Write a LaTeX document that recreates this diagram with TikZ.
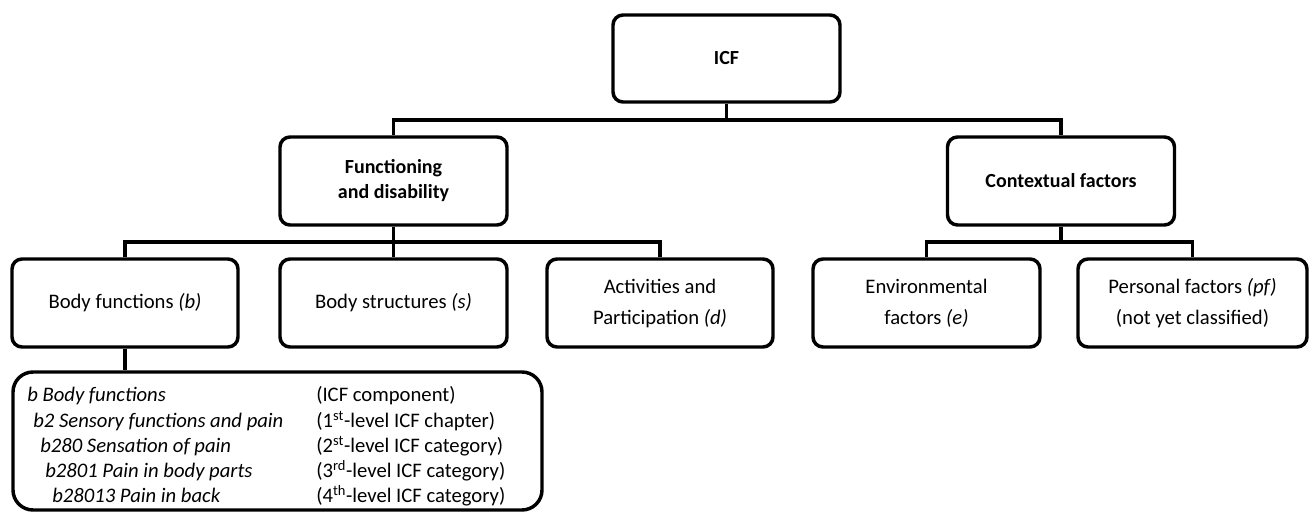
\documentclass[tikz,border=0pt]{standalone}
\usepackage{fontspec}
\setmainfont{Carlito}
\begin{document}
\begin{tikzpicture}[x=0.75pt,y=-0.75pt,
  box/.style={draw=black,line width=2.6pt,rounded corners=7.5pt,align=center,inner sep=0pt,
    font=\fontsize{15.5}{23.25}\selectfont},
  bbox/.style={box,font=\fontsize{15}{18.75}\selectfont\bfseries},
  conn/.style={draw=black,line width=2.6pt},
  lbl/.style={anchor=base west,inner sep=0pt,font=\fontsize{15.5}{18}\selectfont}]
\useasboundingbox (0,0) rectangle (1311,513);
% level 0
\node[bbox,minimum width=170.25pt,minimum height=65.25pt] (icf) at (726.5,58.5) {ICF};
% level 1
\node[bbox,minimum width=170.25pt,minimum height=66pt] (func) at (393.5,181) {Functioning\\and disability};
\node[bbox,minimum width=170.25pt,minimum height=66pt] (ctx) at (1061,181) {Contextual factors};
% level 2
\node[box,minimum width=169.5pt,minimum height=66pt] (bf) at (125,303) {Body functions \textit{(b)}};
\node[box,minimum width=170.25pt,minimum height=66pt] (bs) at (393.5,303) {Body structures \textit{(s)}};
\node[box,minimum width=169.5pt,minimum height=66pt] (act) at (660,303) {Activities and\\Participation \textit{(d)}};
\node[box,minimum width=170.25pt,minimum height=66pt] (env) at (926.5,303) {Environmental\\factors \textit{(e)}};
\node[box,minimum width=171.75pt,minimum height=66pt] (pers) at (1192.5,303) {Personal factors \textit{(pf)}\\(not yet classified)};
% detail box
\node[box,rounded corners=15pt,minimum width=396.75pt,minimum height=103.5pt] (detail) at (277.5,441) {};
% detail text
\node[lbl] (l1) at (27,402) {\itshape b Body functions};
\node[lbl] (l2) at (33,427) {\itshape b2 Sensory functions and pain};
\node[lbl] (l3) at (40,452) {\itshape b280 Sensation of pain};
\node[lbl] (l4) at (45,477) {\itshape b2801 Pain in body parts};
\node[lbl] (l5) at (52,502) {\itshape b28013 Pain in back};
\node[lbl] (r1) at (316,402) {(ICF component)};
\node[lbl] (r2) at (316,427) {(1\textsuperscript{st}-level ICF chapter)};
\node[lbl] (r3) at (316,452) {(2\textsuperscript{st}-level ICF category)};
\node[lbl] (r4) at (316,477) {(3\textsuperscript{rd}-level ICF category)};
\node[lbl] (r5) at (316,502) {(4\textsuperscript{th}-level ICF category)};
% connectors
\coordinate (bus1) at (726.5,120);
\coordinate (bus2) at (393.5,242);
\coordinate (bus3) at (1061,242);
\draw[conn] (icf.south) -- (bus1);
\draw[conn] (func.north) |- (bus1) -| (ctx.north);
\draw[conn] (func.south) -- (bs.north);
\draw[conn] (bf.north) |- (bus2) -| (act.north);
\draw[conn] (ctx.south) -- (bus3);
\draw[conn] (env.north) |- (bus3) -| (pers.north);
\draw[conn] (bf.south) -- (bf.south |- detail.north);
\end{tikzpicture}
\end{document}
